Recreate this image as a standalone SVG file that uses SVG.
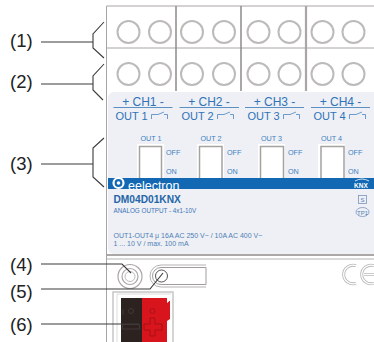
<svg xmlns="http://www.w3.org/2000/svg" width="374" height="342" viewBox="0 0 374 342">
<style>
text{font-family:"Liberation Sans",Arial,sans-serif}
.lab{font-size:18.500px;fill:#222}
.ln{fill:none;stroke:#3a3a3a;stroke-width:1.100}
.fr{fill:none;stroke:#a8a4a4;stroke-width:1}
.ter{fill:#fff;stroke:#bdbaba;stroke-width:2}
.div{stroke:#8f8b8b;stroke-width:1.500}
.ch{font-size:12px;fill:#2f73b8;text-anchor:middle}
.out{font-size:11px;fill:#2f73b8;text-anchor:middle}
.sw{font-size:7.200px;fill:#3d7fc0}
.swb{fill:#fff;stroke:#a5a2a0;stroke-width:1.500}
.rel{fill:none;stroke:#4a85c0;stroke-width:.8}
.sep{stroke:#4a85c0;stroke-width:.9}
.info{font-size:7px;fill:#4f7fb5}
.ceo{fill:none;stroke:#b8b8b8;stroke-width:3}
.cei{fill:none;stroke:#fff;stroke-width:1.300}
</style>
<defs><clipPath id="band"><rect x="108" y="178" width="266" height="12"/></clipPath></defs>
<rect width="374" height="342" fill="#fff"/>
<g id="housing">
<path class="fr" d="M374 6H106.500V342"/>
<path class="fr" d="M107 48H374"/>
<path class="div" d="M176 6V91M241 6V91"/>
<path d="M306 6V91" stroke="#aaa6a6" stroke-width="2.200"/>
<path d="M374 255H107" stroke="#5a5050" stroke-width="1"/>
<path d="M374 259H107" stroke="#b5b2b2" stroke-width="1"/>
</g>
<g id="terminals-1">
<circle class="ter" cx="128.500" cy="32" r="11"/><circle class="ter" cx="160" cy="32" r="11"/>
<circle class="ter" cx="192" cy="32" r="11"/><circle class="ter" cx="224" cy="32" r="11"/>
<circle class="ter" cx="258.500" cy="32" r="11"/><circle class="ter" cx="289.500" cy="32" r="11"/>
<circle class="ter" cx="322.500" cy="32" r="11"/><circle class="ter" cx="353.500" cy="32" r="11"/>
</g>
<g id="terminals-2">
<circle class="ter" cx="128.500" cy="74" r="11"/><circle class="ter" cx="160" cy="74" r="11"/>
<circle class="ter" cx="192" cy="74" r="11"/><circle class="ter" cx="224" cy="74" r="11"/>
<circle class="ter" cx="258.500" cy="74" r="11"/><circle class="ter" cx="289.500" cy="74" r="11"/>
<circle class="ter" cx="322.500" cy="74" r="11"/><circle class="ter" cx="353.500" cy="74" r="11"/>
</g>
<g id="panel">
<rect x="108" y="92" width="273" height="162" rx="6" fill="#eef0f5"/>
<text class="ch" x="143" y="105.500">+ CH1 -</text>
<text class="ch" x="209" y="105.500">+ CH2 -</text>
<text class="ch" x="274.500" y="105.500">+ CH3 -</text>
<text class="ch" x="340.500" y="105.500">+ CH4 -</text>
<path class="sep" d="M113.500 107.500H172.500M179.500 107.500H239M245 107.500H304M311 107.500H370"/>
<text class="out" x="131.500" y="119.500">OUT 1</text>
<text class="out" x="197.500" y="119.500">OUT 2</text>
<text class="out" x="263.500" y="119.500">OUT 3</text>
<text class="out" x="329.500" y="119.500">OUT 4</text>
<path class="rel" d="M151.500 119V114.500H158L164 112M164 114.500H167.500V119"/>
<path class="rel" d="M217.500 119V114.500H224L230 112M230 114.500H233.500V119"/>
<path class="rel" d="M283.500 119V114.500H290L296 112M296 114.500H299.500V119"/>
<path class="rel" d="M349.500 119V114.500H356L362 112M362 114.500H365.500V119"/>
</g>
<g id="switches">
<rect x="137" y="144" width="27" height="36" fill="#fff"/><rect x="197" y="144" width="27" height="36" fill="#fff"/><rect x="258" y="144" width="27" height="36" fill="#fff"/><rect x="318" y="144" width="27" height="36" fill="#fff"/>
<path class="swb" d="M139.500 179V146.500H161.500V179M199.500 179V146.500H222V179M260.500 179V146.500H283.500V179M321 179V146.500H344V179"/>
<text class="sw" x="140.500" y="140.500">OUT 1</text>
<text class="sw" x="200.500" y="140.500">OUT 2</text>
<text class="sw" x="261" y="140.500">OUT 3</text>
<text class="sw" x="321" y="140.500">OUT 4</text>
<text class="sw" x="166" y="155">OFF</text><text class="sw" x="166" y="174">ON</text>
<text class="sw" x="227" y="155">OFF</text><text class="sw" x="227" y="174">ON</text>
<text class="sw" x="288" y="155">OFF</text><text class="sw" x="288" y="174">ON</text>
<text class="sw" x="348" y="155">OFF</text><text class="sw" x="348" y="174">ON</text>
</g>
<g id="brand">
<rect x="108" y="178" width="266" height="11" fill="#1268b3"/>
<circle cx="118.500" cy="183" r="5" fill="none" stroke="#fff" stroke-width="2.200"/>
<circle cx="118.500" cy="183" r="1.800" fill="#fff"/>
<text x="128" y="190" font-size="12.500" fill="#fff" clip-path="url(#band)">eelectron</text>
<text x="354" y="187.500" font-size="6.500" font-weight="bold" fill="#fff">KNX</text>
<path d="M355 181Q362 177 369 181" fill="none" stroke="#fff" stroke-width=".8"/>
<text x="113.500" y="203" font-size="10.200" font-weight="bold" fill="#2465a8">DM04D01KNX</text>
<text x="113.500" y="212.500" font-size="6.300" fill="#3c75b5">ANALOG OUTPUT - 4x1-10V</text>
<text class="info" x="113.500" y="238">OUT1-OUT4  μ  16A AC 250 V~  /  10A AC 400 V~</text>
<text class="info" x="113.500" y="246">1 ... 10 V  /  max. 100 mA</text>
<rect x="358.500" y="195.500" width="8" height="8" fill="none" stroke="#7a94bc" stroke-width=".8"/>
<text x="360.500" y="202" font-size="6" fill="#4f7fb5">S</text>
<ellipse cx="362.500" cy="212" rx="6.500" ry="4.500" fill="none" stroke="#7a94bc" stroke-width=".8"/>
<text x="362.500" y="214.500" font-size="6" fill="#4f7fb5" text-anchor="middle">TP1</text>
</g>
<g id="button">
<circle cx="130" cy="276.500" r="12" fill="#fff" stroke="#aaa6a6" stroke-width="1.200"/>
<circle cx="130" cy="276.500" r="8" fill="none" stroke="#aaa6a6" stroke-width="1.200"/>
<circle cx="130" cy="276.500" r="5" fill="none" stroke="#bbb" stroke-width="1"/>
</g>
<g id="led">
<path d="M206 265H161A11 11 0 0 0 161 287H206" fill="none" stroke="#b5b2b2" stroke-width="1"/>
<path d="M206 267.500H161A8.500 8.500 0 0 0 161 284.500H206V267.500" fill="none" stroke="#a09c9c" stroke-width="1"/>
<circle cx="161.500" cy="276" r="6" fill="#fff" stroke="#555" stroke-width="1"/>
</g>
<g id="ce">
<path class="ceo" d="M356 265.700A9.300 9.300 0 1 0 356 283.300"/>
<path class="cei" d="M356 265.700A9.300 9.300 0 1 0 356 283.300"/>
<path class="ceo" d="M374 265.700A9.300 9.300 0 1 0 374 283.300M364 274.500H374"/>
<path class="cei" d="M374 265.700A9.300 9.300 0 1 0 374 283.300M364 274.500H374"/>
</g>
<g id="connector">
<path d="M113 342V292H173V342" fill="none" stroke="#c8c6c6" stroke-width="1.500"/>
<path d="M117 342V294H171" fill="none" stroke="#dddcdc" stroke-width="1"/>
<rect x="121" y="298" width="21" height="44" fill="#2c2220"/>
<path d="M142 298H167V303L170 300.500V319L167 321V342H142Z" fill="#d8141c"/>
<circle cx="131" cy="311" r="2.500" fill="none" stroke="#4a3e3c" stroke-width=".8"/>
<path d="M123 309V315" stroke="#4a3e3c" stroke-width=".8"/>
<circle cx="152.500" cy="311" r="2.500" fill="none" stroke="#a01018" stroke-width=".8"/>
<path d="M150 318H155V324H162V330H155V336H150V330H144V324H150Z" fill="none" stroke="#a01018" stroke-width=".8"/>
<rect x="122.500" y="324.500" width="17" height="4.500" fill="none" stroke="#4a3e3c" stroke-width=".8"/>
</g>
<g id="connectors">
<path class="ln" d="M41 42H93M104 22L93 34V48L104 58"/>
<path class="ln" d="M41 84H93M104 64L93 76V90L103 100"/>
<path class="ln" d="M41 164H93M104 138L93 148V177L104 187"/>
<path class="ln" d="M41 264H122L131 273"/>
<path class="ln" d="M41 289H150L163 273"/>
<path class="ln" d="M41 324H139"/>
</g>
<g id="labels">
<text class="lab" x="10" y="47">(1)</text>
<text class="lab" x="10" y="88">(2)</text>
<text class="lab" x="10" y="170">(3)</text>
<text class="lab" x="10" y="271">(4)</text>
<text class="lab" x="10" y="298">(5)</text>
<text class="lab" x="10" y="331">(6)</text>
</g>
</svg>
